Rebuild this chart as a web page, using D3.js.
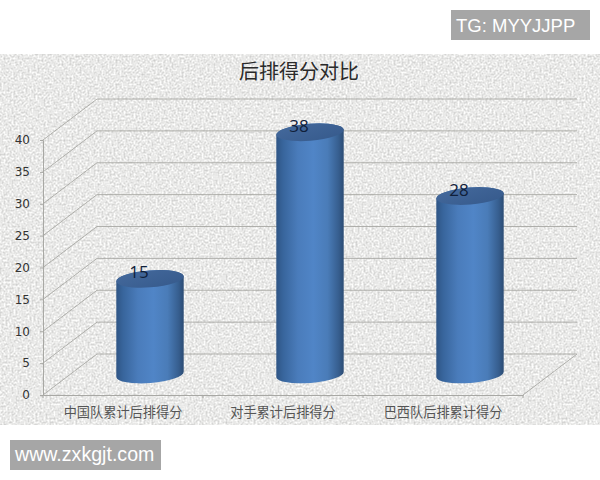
<!DOCTYPE html>
<html><head><meta charset="utf-8">
<script src="https://cdn.jsdelivr.net/npm/d3@7/dist/d3.min.js"></script>
<style>html,body{margin:0;padding:0;background:#fff;overflow:hidden}svg{display:block}</style>
</head><body><svg id="c" width="600" height="480"></svg>
<script>
const chartTitle = "后排得分对比";
const categories = ["中国队累计后排得分","对手累计后排得分","巴西队后排累计得分"];
const values = [15,38,28];
const yTicks = [0,5,10,15,20,25,30,35,40];
const watermarkTop = "TG: MYYJJPP";
const watermarkBottom = "www.zxkgjt.com";

const svg = d3.select("#c");
const CJK = "'Noto Sans CJK SC',sans-serif";
const depthX = 54, depthY = -41;
const x = d3.scaleBand().domain(categories).range([43,523]);
const y = d3.scaleLinear().domain([0,40]).range([395,140]);

const defs = svg.append("defs");
const f = defs.append("filter").attr("id","paper").attr("x",0).attr("y",0).attr("width",1).attr("height",1)
  .attr("color-interpolation-filters","sRGB");
f.append("feTurbulence").attr("type","fractalNoise").attr("baseFrequency",0.5).attr("numOctaves",3).attr("seed",4);
f.append("feColorMatrix").attr("type","matrix").attr("values","0.34 0 0 0 0.745  0.34 0 0 0 0.745  0.34 0 0 0 0.74  0 0 0 0 1");
f.append("feGaussianBlur").attr("stdDeviation",0.7);
const body = defs.append("linearGradient").attr("id","body");
[[0,"#2f5585"],[0.1,"#38659c"],[0.32,"#4a7cbb"],[0.55,"#5085c7"],[0.76,"#4a7cb8"],[0.92,"#375f90"],[1,"#2c4c74"]]
  .forEach(s=>body.append("stop").attr("offset",s[0]).attr("stop-color",s[1]));
const topG = defs.append("linearGradient").attr("id","cap").attr("x1",0).attr("x2",1).attr("y1",0).attr("y2",1);
[[0,"#44699c"],[1,"#365a8c"]].forEach(s=>topG.append("stop").attr("offset",s[0]).attr("stop-color",s[1]));

svg.append("rect").attr("x",0).attr("y",54).attr("width",600).attr("height",370.5).attr("filter","url(#paper)");

const grid = "#a8a8a4";
const g = svg.append("g").attr("fill","none").attr("stroke",grid).attr("stroke-width",0.9);
yTicks.forEach(t=>{
  const px = y(t);
  g.append("path").attr("d",`M${x.range()[0]},${px}L${x.range()[0]+depthX},${px+depthY}L${x.range()[1]+depthX},${px+depthY}`);
});
g.append("path").attr("d",`M${x.range()[1]},${y(0)}L${x.range()[1]+depthX},${y(0)+depthY}`);

const ay = d3.axisLeft(y).tickValues(yTicks).tickSize(3).tickPadding(10);
const yg = svg.append("g").attr("transform",`translate(${x.range()[0]},0)`).call(ay);
yg.selectAll("text").attr("font-family","'DejaVu Sans',sans-serif").attr("font-size",12).attr("fill","#333");
yg.selectAll("line,path").attr("stroke",grid);

const bounds = [0,1,2,3].map(i=>x.range()[0]+i*x.bandwidth());
const ax = d3.axisBottom(x).tickSize(0).tickPadding(13);
const xg = svg.append("g").attr("transform",`translate(0,${y(0)})`).call(ax);
xg.selectAll("text").attr("font-family",CJK).attr("font-size",13.2).attr("fill","#555");
xg.select("path").attr("stroke",grid);
xg.selectAll("g.b").data(bounds).enter().append("line").attr("x1",d=>d).attr("x2",d=>d).attr("y1",0).attr("y2",3).attr("stroke",grid);

const rx = 33.8, ry = 8.5, tilt = -4.5;
const c = Math.cos(tilt*Math.PI/180)*rx, s = Math.sin(tilt*Math.PI/180)*rx;
const bars = svg.append("g").selectAll("g").data(categories.map((k,i)=>({k,v:values[i]}))).enter().append("g");
const cx = d=>x(d.k)+x.bandwidth()/2+depthX/2;
const by = ()=>y(0)+depthY/2;
const ty = d=>y(d.v)+depthY/2;
bars.append("path").attr("fill","url(#body)").attr("d",d=>{
  const X=cx(d),B=by(),T=ty(d);
  return `M${X-c},${T-s}L${X-c},${B-s}A${rx},${ry} ${tilt} 0 0 ${X+c},${B+s}L${X+c},${T+s}A${rx},${ry} ${tilt} 0 0 ${X-c},${T-s}Z`;
});
bars.append("ellipse").attr("fill","url(#cap)").attr("rx",rx).attr("ry",ry)
  .attr("transform",d=>`translate(${cx(d)},${ty(d)}) rotate(${tilt})`);
bars.append("text").text(d=>d.v).attr("x",d=>cx(d)-11).attr("y",d=>ty(d)-0.5)
  .attr("text-anchor","middle").attr("font-family","'Open Sans',sans-serif").attr("font-size",17).attr("fill","#10203a");

svg.append("text").text(chartTitle).attr("x",299).attr("y",79).attr("text-anchor","middle")
  .attr("font-family",CJK).attr("font-size",20).attr("fill","#2a2a2a");

svg.append("rect").attr("x",451).attr("y",10).attr("width",139).attr("height",30).attr("fill","#a6a6a6");
svg.append("text").text(watermarkTop).attr("x",456).attr("y",32).attr("font-family","'Liberation Sans',sans-serif").attr("font-size",18.5).attr("fill","#fff");
svg.append("rect").attr("x",10).attr("y",440).attr("width",151).attr("height",30).attr("fill","#a6a6a6");
svg.append("text").text(watermarkBottom).attr("x",15).attr("y",461).attr("font-family","'Liberation Sans',sans-serif").attr("font-size",19.6).attr("fill","#fff");
</script></body></html>
